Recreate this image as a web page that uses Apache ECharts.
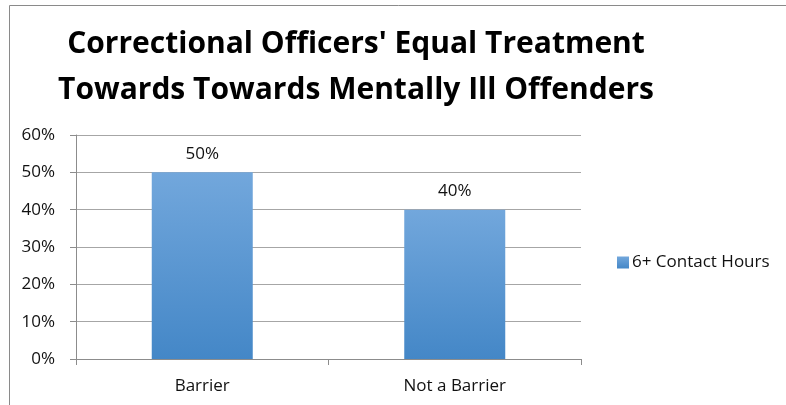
<!DOCTYPE html>
<html>
<head>
<meta charset="utf-8">
<script src="https://cdn.jsdelivr.net/npm/echarts@6/dist/echarts.min.js"></script>
<style>
  html, body { margin: 0; padding: 0; background: #fff; }
  #chart { width: 786px; height: 405px; }
</style>
</head>
<body>
<div id="chart"></div>
<script>
// Chart data
const titleLines = ["Correctional Officers' Equal Treatment", "Towards Towards Mentally Ill Offenders"];
const categories = ["Barrier", "Not a Barrier"];
const seriesName = "6+ Contact Hours";
const values = [50, 40];
const yTicks = [0, 10, 20, 30, 40, 50, 60];

const labelFont = "Open Sans";
const chart = echarts.init(document.getElementById('chart'));

const barGradient = new echarts.graphic.LinearGradient(0, 0, 0, 1, [
  { offset: 0, color: '#72a7dc' },
  { offset: 1, color: '#4487c7' }
]);

chart.setOption({
  animation: false,
  backgroundColor: '#ffffff',
  title: {
    text: titleLines.join('\n'),
    left: 351,
    top: 16,
    textAlign: 'center',
    textStyle: {
      fontFamily: labelFont,
      fontWeight: 'bold',
      fontSize: 30,
      lineHeight: 46,
      color: '#000'
    }
  },
  legend: {
    data: [seriesName],
    left: 612,
    top: 249,
    itemWidth: 12,
    itemHeight: 12,
    itemGap: 4,
    icon: 'rect',
    textStyle: { fontFamily: labelFont, fontSize: 17, color: '#111', padding: [0, 0, 0, -2] }
  },
  grid: { left: 76, right: 205, top: 135, bottom: 46, containLabel: false },
  xAxis: {
    type: 'category',
    data: categories,
    axisLine: { lineStyle: { color: '#8c8c8c', width: 1 } },
    axisTick: { show: true, length: 6, lineStyle: { color: '#8c8c8c' } },
    axisLabel: { margin: 19, fontFamily: labelFont, fontSize: 17, color: '#111' }
  },
  yAxis: {
    type: 'value',
    min: yTicks[0],
    max: yTicks[yTicks.length - 1],
    interval: 10,
    axisLine: { show: true, lineStyle: { color: '#8c8c8c', width: 1 } },
    axisTick: { show: true, length: 6, lineStyle: { color: '#8c8c8c' } },
    axisLabel: { margin: 21, fontFamily: labelFont, fontSize: 17, color: '#111', formatter: v => v + '%' },
    splitLine: { show: true, lineStyle: { color: '#a6a6a6', width: 1 } }
  },
  series: [{
    name: seriesName,
    type: 'bar',
    data: values,
    barWidth: '40%',
    itemStyle: { color: barGradient },
    label: {
      show: true,
      position: 'top',
      distance: 10,
      fontFamily: labelFont,
      fontSize: 17,
      color: '#111',
      formatter: p => p.value + '%'
    }
  }],
  graphic: [{
    type: 'rect',
    shape: { x: 9.5, y: 5.5, width: 800, height: 420 },
    style: { fill: 'none', stroke: '#8a8a8a', lineWidth: 1 },
    z: 100,
    silent: true
  }]
});
</script>
</body>
</html>
